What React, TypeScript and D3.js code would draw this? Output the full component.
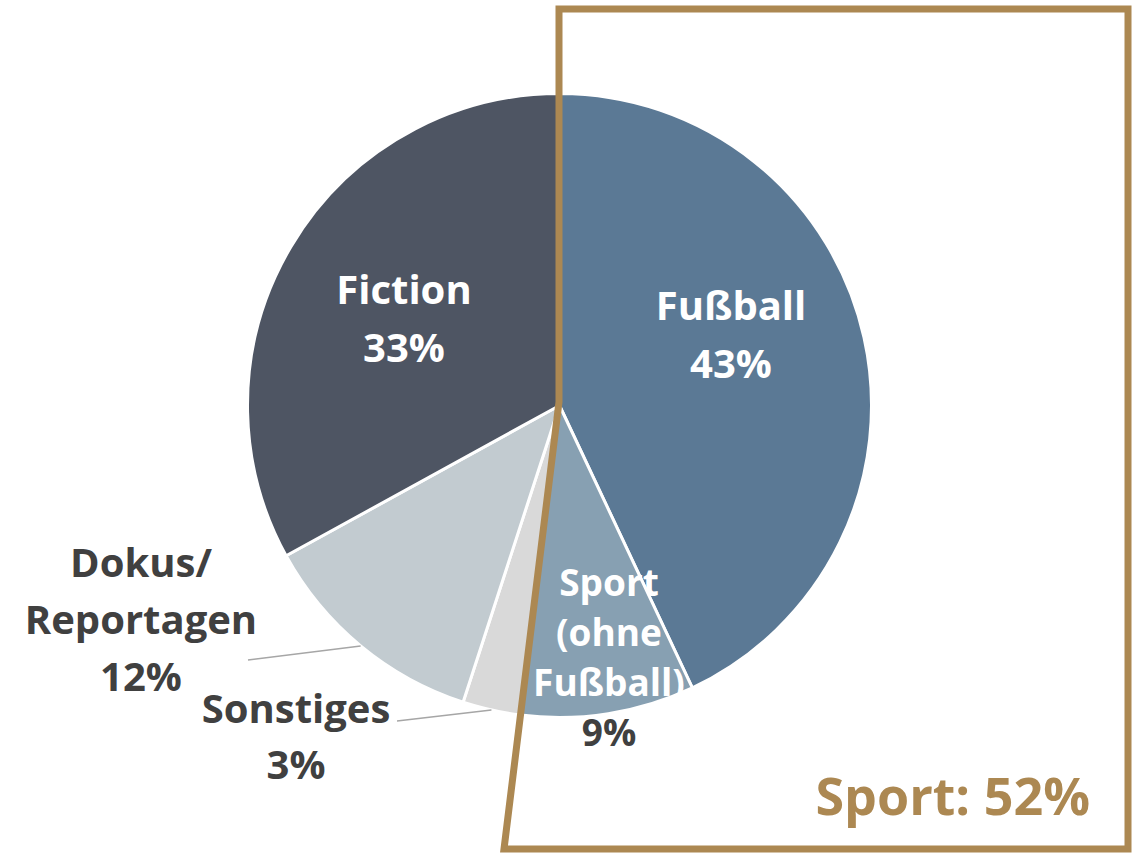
import React from "react";
import * as d3 from "d3";

const categories = ["Fußball", "Sport (ohne Fußball)", "Sonstiges", "Dokus/ Reportagen", "Fiction"];
const values = [43, 9, 3, 12, 33];
const colors = ["#5B7995", "#87A0B2", "#D9D9D9", "#C2CBD0", "#4E5563"];
const labelLines = [["Fußball"], ["Sport", "(ohne", "Fußball)"], ["Sonstiges"], ["Dokus/", "Reportagen"], ["Fiction"]];
const sportTotal = "Sport: 52%";

const W = 1140, H = 853;
const cx = 559.5, cy = 405.5, R = 312;
const FONT = "'Open Sans', 'Noto Sans', sans-serif";
const gold = "#AC8852";
const dark = "#404040";

// label placement: x center, baseline of first line, line height, font size, colours
const labelLayout = [
  { x: 731, y: 320, lh: 58, fs: 40, c: "#fff", pc: "#fff" },
  { x: 609, y: 596, lh: 50, fs: 37, c: "#fff", pc: dark },
  { x: 296, y: 723, lh: 56, fs: 40, c: dark, pc: dark },
  { x: 141, y: 577, lh: 57, fs: 40, c: dark, pc: dark },
  { x: 404, y: 304, lh: 58, fs: 40, c: "#fff", pc: "#fff" },
];

export default function App() {
  const pie = d3.pie<number>().sort(null).value((d) => d)(values);
  const arc = d3.arc<d3.PieArcDatum<number>>().innerRadius(0).outerRadius(R);
  const rim = (a: number, r: number) => [cx + r * Math.sin(a), cy - r * Math.cos(a)];

  const sonst = pie[2];
  const dokus = pie[3];
  const sA = rim((sonst.startAngle + sonst.endAngle) / 2, R);
  const dA = rim((dokus.startAngle + dokus.endAngle) / 2, R);

  return (
    <svg width={W} height={H} style={{ position: "absolute", left: 0, top: 0 }}>
      <rect width={W} height={H} fill="#fff" />
      <g transform={`translate(${cx},${cy})`}>
        {pie.map((p, i) => (
          <path key={i} d={arc(p) || ""} fill={colors[i]} stroke="#fff" strokeWidth={3} strokeLinejoin="round" />
        ))}
      </g>
      <line x1={sA[0]} y1={sA[1]} x2={397} y2={721} stroke="#A6A6A6" strokeWidth={1.5} />
      <line x1={dA[0]} y1={dA[1]} x2={248} y2={660} stroke="#A6A6A6" strokeWidth={1.5} />
      {labelLayout.map((L, i) => {
        const lines = labelLines[i];
        return (
          <text key={i} textAnchor="middle" fontFamily={FONT} fontWeight={700} fontSize={L.fs}>
            {lines.map((t, j) => (
              <tspan key={j} x={L.x} y={L.y + j * L.lh} fill={L.c}>{t}</tspan>
            ))}
            <tspan x={L.x} y={L.y + lines.length * L.lh} fill={L.pc}>{values[i]}%</tspan>
          </text>
        );
      })}
      <path d={`M559,9 L1128,9 L1128,849 L504,849 L559,402 Z`} fill="none" stroke={gold} strokeWidth={7} strokeLinejoin="miter" />
      <text x={1090} y={815} textAnchor="end" fontFamily={FONT} fontWeight={700} fontSize={52} fill={gold}>{sportTotal}</text>
    </svg>
  );
}
